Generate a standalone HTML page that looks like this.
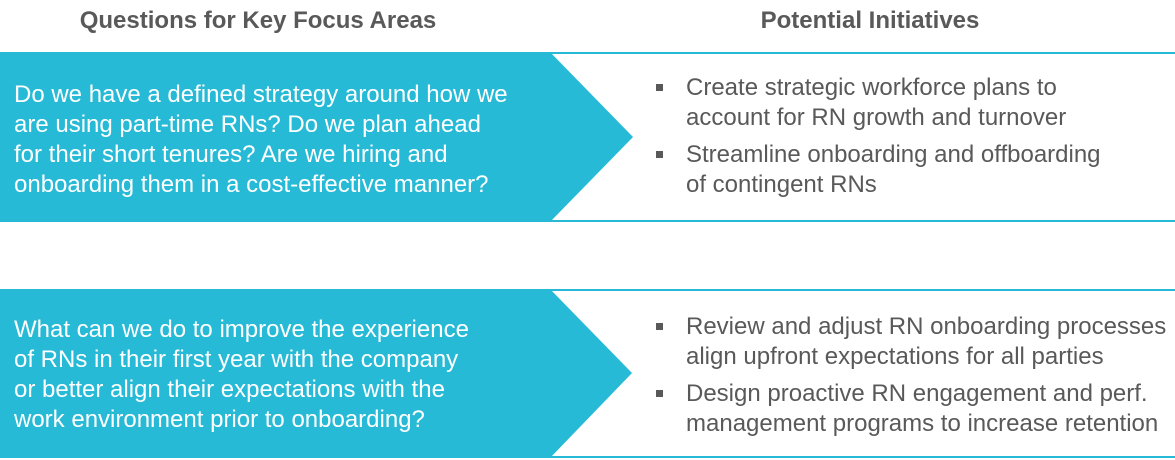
<!DOCTYPE html>
<html><head><style>
body{margin:0;width:1175px;height:460px;background:#fff;position:relative;overflow:hidden;font-family:"Liberation Sans",Arial,sans-serif}
.h{position:absolute;top:7px;font-weight:bold;font-size:24px;color:#595959;text-align:center;white-space:nowrap}
.l{position:absolute;left:14px;color:#fff;font-size:24px;line-height:30px;white-space:nowrap}
.r{position:absolute;left:686px;color:#595959;font-size:24px;line-height:30px;white-space:nowrap}
.r div{position:relative;margin-bottom:7px}
.r div:before{content:"";position:absolute;left:-30px;top:11px;width:7px;height:7px;background:#595959}
</style></head><body>
<div class="h" style="left:0;width:516px">Questions for Key Focus Areas</div>
<div class="h" style="left:640px;width:460px">Potential Initiatives</div>
<svg width="1175" height="460" style="position:absolute;left:0;top:0">
<polygon points="0,52 550,52 633,137 550,222 0,222" fill="#26bad6"/>
<line x1="550" y1="53" x2="1175" y2="53" stroke="#26bad6" stroke-width="2"/>
<line x1="550" y1="221" x2="1175" y2="221" stroke="#26bad6" stroke-width="2"/>
<polygon points="0,289 550,289 632,373 550,458 0,458" fill="#26bad6"/>
<line x1="550" y1="290" x2="1175" y2="290" stroke="#26bad6" stroke-width="2"/>
<line x1="550" y1="457" x2="1175" y2="457" stroke="#26bad6" stroke-width="2"/>
</svg>
<div class="l" style="top:80px">Do we have a defined strategy around how we<br>are using part-time RNs? Do we plan ahead<br>for their short tenures? Are we hiring and<br>onboarding them in a cost-effective manner?</div>
<div class="l" style="top:315px">What can we do to improve the experience<br>of RNs in their first year with the company<br>or better align their expectations with the<br>work environment prior to onboarding?</div>
<div class="r" style="top:73px"><div>Create strategic workforce plans to<br>account for RN growth and turnover</div><div>Streamline onboarding and offboarding<br>of contingent RNs</div></div>
<div class="r" style="top:312px"><div>Review and adjust RN onboarding processes<br>align upfront expectations for all parties</div><div>Design proactive RN engagement and perf.<br>management programs to increase retention</div></div>
</body></html>
